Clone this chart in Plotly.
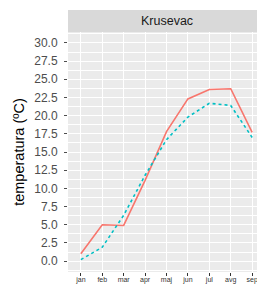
import plotly.graph_objects as go

months = ["jan", "feb", "mar", "apr", "maj", "jun", "jul", "avg", "sep"]
series_a = [1.0, 5.0, 4.9, 11.1, 17.8, 22.3, 23.6, 23.7, 17.7]
series_b = [0.2, 1.9, 6.3, 11.8, 16.7, 19.8, 21.7, 21.4, 17.0]
y_ticks = [0, 2.5, 5, 7.5, 10, 12.5, 15, 17.5, 20, 22.5, 25, 27.5, 30]
y_labels = ["%.1f" % v for v in y_ticks]
panel_title = "Krusevac"
y_title = "temperatura (ºC)"

FONT = "Liberation Sans, Arial, sans-serif"

fig = go.Figure()
fig.add_trace(go.Scatter(x=months, y=series_a, mode="lines",
                         line=dict(color="#F8766D", width=1.6), showlegend=False))
fig.add_trace(go.Scatter(x=months, y=series_b, mode="lines",
                         line=dict(color="#00BFC4", width=1.6, dash="3px,3px"), showlegend=False))

panel_top = 240 / 262
fig.add_shape(type="rect", xref="paper", yref="paper", x0=0, x1=1, y0=panel_top, y1=1,
              fillcolor="#D9D9D9", line=dict(width=0), layer="below")
fig.add_annotation(text=panel_title, xref="paper", yref="paper", x=0.5,
                   y=(panel_top + 1) / 2, showarrow=False, xanchor="center", yanchor="middle",
                   font=dict(family=FONT, size=12.5, color="#1A1A1A"))

fig.update_layout(
    width=257, height=277,
    margin=dict(l=60, r=0, t=2, b=13),
    paper_bgcolor="white", plot_bgcolor="#EBEBEB",
    font=dict(family=FONT),
    xaxis=dict(type="category", range=[-0.6, 8.6], showgrid=True, gridcolor="white", gridwidth=1,
               ticks="outside", ticklen=3, tickcolor="#333333", tickwidth=1,
               tickfont=dict(size=7, color="#333333"), zeroline=False, showline=False,
               ticklabelstandoff=-2, automargin=False),
    yaxis=dict(domain=[0, panel_top], range=[-1.5, 31.5], tickvals=y_ticks, ticktext=y_labels,
               showgrid=True, gridcolor="white", gridwidth=1,
               minor=dict(dtick=1.25, tick0=0, showgrid=True, gridcolor="white", gridwidth=0.5),
               ticks="outside", ticklen=3, tickcolor="#4D4D4D", tickwidth=1,
               tickfont=dict(size=12, color="#4D4D4D"), zeroline=False, showline=False,
               ticklabelstandoff=4,
               title=dict(text=y_title, font=dict(size=14.5, color="black"), standoff=6),
               automargin=False),
)

fig.write_html("out.html")
